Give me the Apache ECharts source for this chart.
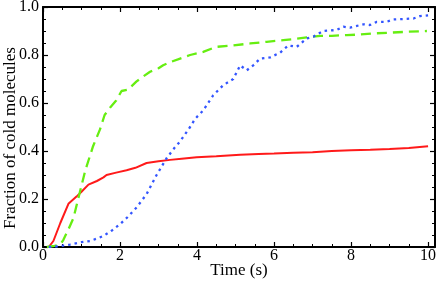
<!DOCTYPE html>
<html><head><meta charset="utf-8">
<script src="https://cdn.jsdelivr.net/npm/echarts@6/dist/echarts.min.js"></script>
<style>html,body{margin:0;padding:0;background:#fff}#c{width:436px;height:284px}</style>
</head><body><div id="c"></div>
<script>
const xTickLabels = [0, 2, 4, 6, 8, 10];
const redX = [0.15,0.27,0.45,0.66,0.87,1.0,1.18,1.4,1.57,1.65,1.9,2.17,2.4,2.69,3.0,3.3,3.6,3.99,4.5,5.12,5.6,6.0,6.5,7.0,7.5,8.0,8.5,9.0,9.5,10.0];
const redY = [0,0.025,0.10,0.18,0.21,0.23,0.26,0.275,0.29,0.30,0.31,0.32,0.33,0.35,0.357,0.363,0.368,0.374,0.378,0.384,0.388,0.39,0.393,0.395,0.40,0.403,0.405,0.408,0.412,0.42];
const greenX = [0.1,0.3,0.45,0.53,0.65,0.79,0.96,1.1,1.3,1.48,1.6,1.74,1.9,2.04,2.2,2.43,2.6,2.78,3.0,3.12,3.3,3.56,3.82,4.16,4.5,4.94,5.38,5.81,6.24,6.5,6.85,7.2,7.5,7.89,8.2,8.57,9.0,9.5,9.97];
const greenY = [0,0.005,0.01,0.03,0.07,0.12,0.23,0.32,0.42,0.49,0.55,0.58,0.61,0.65,0.655,0.69,0.71,0.73,0.745,0.757,0.77,0.785,0.80,0.813,0.834,0.84,0.848,0.855,0.862,0.866,0.873,0.88,0.88,0.883,0.885,0.89,0.893,0.897,0.90];
const blueX = [0.15,0.4,0.7,1.0,1.22,1.4,1.57,1.8,2.0,2.2,2.43,2.69,2.95,3.21,3.4,3.56,3.82,3.95,4.16,4.42,4.68,4.94,5.12,5.29,5.46,5.64,5.9,6.16,6.37,6.59,6.85,7.02,7.28,7.62,7.8,7.97,8.32,8.49,8.67,8.92,9.1,9.62,9.79,10.0];
const blueY = [0,0.003,0.01,0.02,0.025,0.035,0.046,0.07,0.095,0.125,0.165,0.22,0.30,0.37,0.41,0.44,0.50,0.534,0.569,0.632,0.674,0.70,0.757,0.736,0.757,0.785,0.79,0.81,0.84,0.834,0.869,0.876,0.90,0.904,0.918,0.914,0.928,0.925,0.938,0.938,0.948,0.952,0.962,0.965];

const pairs = (xs, ys) => xs.map((x, i) => [x, ys[i]]);
const font = 'Liberation Serif, Times New Roman, serif';
const axisLine = {show: true, onZero: false, lineStyle: {color: '#000', width: 2}};
function xAxis(pos, show) {
  return {
    type: 'value', position: pos, min: 0, max: 10.18, interval: 2,
    axisLine: axisLine,
    axisTick: {show: true, inside: true, length: 5, lineStyle: {color: '#000', width: 1.2}},
    minorTick: {show: true, splitNumber: 4, length: 3, lineStyle: {color: '#000', width: 1}},
    splitLine: {show: false},
    axisLabel: show ? {show: true, fontFamily: font, fontSize: 16, color: '#000', margin: 1,
      showMaxLabel: false,
      formatter: v => xTickLabels.indexOf(Math.round(v * 100) / 100) >= 0 ? String(v) : ''} : {show: false},
    name: show ? 'Time (s)' : '', nameLocation: 'middle', nameGap: 15, nameMoveOverlap: false,
    nameTextStyle: {fontFamily: font, fontSize: 17, color: '#000'}
  };
}
function yAxis(pos, show) {
  return {
    type: 'value', position: pos, min: 0, max: 1, interval: 0.2,
    axisLine: axisLine,
    axisTick: {show: true, inside: true, length: 5, lineStyle: {color: '#000', width: 1.2}},
    minorTick: {show: true, splitNumber: 4, length: 3, lineStyle: {color: '#000', width: 1}},
    splitLine: {show: false},
    axisLabel: show ? {show: true, fontFamily: font, fontSize: 16, color: '#000', margin: 4,
      formatter: v => v.toFixed(1)} : {show: false},
    name: show ? 'Fraction of cold molecules' : '', nameLocation: 'middle', nameGap: 24, nameMoveOverlap: false,
    nameTextStyle: {fontFamily: font, fontSize: 17, color: '#000', padding: [0, 22, 0, 0]}
  };
}
const chart = echarts.init(document.getElementById('c'), null, {renderer: 'canvas'});
chart.setOption({
  animation: false,
  backgroundColor: '#fff',
  grid: {left: 43, right: 1, top: 7, bottom: 37, containLabel: false, outerBoundsMode: 'none'},
  xAxis: [xAxis('bottom', true), xAxis('top', false)],
  yAxis: [yAxis('left', true), yAxis('right', false)],
  series: [
    {type: 'line', data: pairs(redX, redY), showSymbol: false, symbol: 'none',
     lineStyle: {color: '#ff1a1a', width: 2}},
    {type: 'line', data: pairs(greenX, greenY), showSymbol: false, symbol: 'none',
     lineStyle: {color: '#66ee11', width: 2.3, type: [10, 6]}},
    {type: 'line', data: pairs(blueX, blueY), showSymbol: false, symbol: 'none',
     lineStyle: {color: '#3355ff', width: 2.3, type: [2.5, 4]}}
  ]
});
</script></body></html>
